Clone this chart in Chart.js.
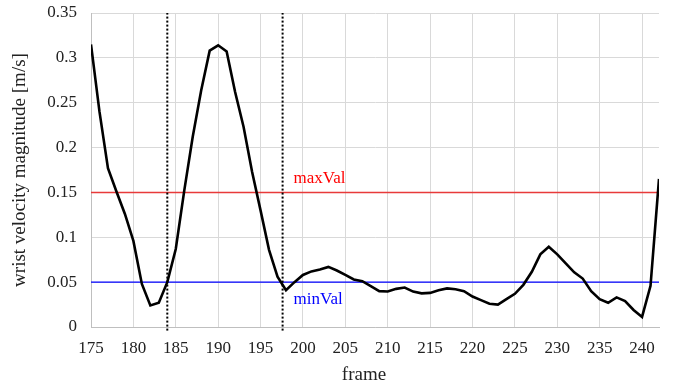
<!DOCTYPE html>
<html>
<head>
<meta charset="utf-8">
<script src="https://cdn.jsdelivr.net/npm/chart.js@4/dist/chart.umd.min.js"></script>
<style>
  html, body { margin: 0; padding: 0; background: #fff; }
  #wrap { width: 675px; height: 385px; }
</style>
</head>
<body>
<div id="wrap"><canvas id="velChart" width="675" height="385"></canvas></div>
<script>
// data
const frames = [175, 176, 177, 178, 179, 180, 181, 182, 183, 184, 185, 186, 187, 188, 189, 190,
  191, 192, 193, 194, 195, 196, 197, 198, 199, 200, 201, 202, 203, 204, 205, 206, 207, 208,
  209, 210, 211, 212, 213, 214, 215, 216, 217, 218, 219, 220, 221, 222, 223, 224, 225, 226,
  227, 228, 229, 230, 231, 232, 233, 234, 235, 236, 237, 238, 239, 240, 241, 242];
const velocity = [0.315, 0.24, 0.177, 0.151, 0.126, 0.096, 0.048, 0.024, 0.027, 0.05, 0.087,
  0.152, 0.212, 0.264, 0.308, 0.314, 0.307, 0.262, 0.223, 0.173, 0.13, 0.086, 0.056, 0.041,
  0.05, 0.058, 0.062, 0.064, 0.067, 0.063, 0.058, 0.053, 0.051, 0.0455, 0.04, 0.0395, 0.0425,
  0.044, 0.0395, 0.0375, 0.038, 0.041, 0.043, 0.042, 0.04, 0.034, 0.03, 0.026, 0.025, 0.031,
  0.037, 0.047, 0.0615, 0.081, 0.0895, 0.081, 0.071, 0.061, 0.054, 0.04, 0.031, 0.027, 0.033,
  0.029, 0.019, 0.0112, 0.046, 0.165];
const maxVal = 0.15;
const minVal = 0.05;
const markers = [184, 197.6];
const xTicks = [175, 180, 185, 190, 195, 200, 205, 210, 215, 220, 225, 230, 235, 240];
const yTicks = [0, 0.05, 0.1, 0.15, 0.2, 0.25, 0.3, 0.35];
const xMin = 175, xMax = 242;
const yMin = 0, yMax = 0.35;

const serif = "'Liberation Serif', 'Times New Roman', serif";

const datasets = [
  {
    label: "velocity",
    data: frames.map((f, i) => ({ x: f, y: velocity[i] })),
    borderColor: "#000",
    borderWidth: 2.6,
    pointRadius: 0,
    tension: 0,
    order: 0
  },
  {
    label: "maxVal",
    data: [{ x: xMin, y: maxVal }, { x: xMax, y: maxVal }],
    borderColor: "#e83a3a",
    borderWidth: 1.5,
    pointRadius: 0,
    order: 2
  },
  {
    label: "minVal",
    data: [{ x: xMin, y: minVal }, { x: xMax, y: minVal }],
    borderColor: "#0000ff",
    borderWidth: 1.3,
    pointRadius: 0,
    order: 2
  }
];

markers.forEach(m => {
  datasets.push({
    label: "marker",
    data: [{ x: m, y: yMin - 0.004 }, { x: m, y: yMax }],
    borderColor: "#000",
    borderWidth: 2,
    borderDash: [2, 2],
    pointRadius: 0,
    clip: { left: 0, top: 0, right: 0, bottom: 5 },
    order: 1
  });
});

// text labels next to the threshold lines + the x axis title
const textLabels = {
  id: "textLabels",
  afterDatasetsDraw(chart) {
    const { ctx, scales } = chart;
    const x = scales.x.getPixelForValue(markers[1]) + 11;
    ctx.save();
    ctx.font = "17px " + serif;
    ctx.textBaseline = "alphabetic";
    ctx.fillStyle = "#ff0000";
    ctx.fillText("maxVal", x, scales.y.getPixelForValue(maxVal) - 9);
    ctx.fillStyle = "#0000ff";
    ctx.fillText("minVal", x, scales.y.getPixelForValue(minVal) + 22);

    ctx.font = "19px " + serif;
    ctx.fillStyle = "#222";
    ctx.textAlign = "center";
    ctx.textBaseline = "middle";
    ctx.fillText("frame", scales.x.getPixelForValue(xMin) + 273, chart.height - 10);
    ctx.restore();
  }
};

new Chart(document.getElementById("velChart"), {
  type: "line",
  data: { datasets },
  options: {
    responsive: false,
    animation: false,
    layout: { padding: { left: 9, right: 16, top: 13, bottom: 0 } },
    plugins: { legend: { display: false }, tooltip: { enabled: false } },
    scales: {
      x: {
        type: "linear",
        min: xMin,
        max: xMax,
        ticks: {
          autoSkip: false,
          color: "#222",
          font: { family: serif, size: 17 },
          padding: 11,
          maxRotation: 0
        },
        afterBuildTicks(axis) {
          axis.ticks = xTicks.map(v => ({ value: v }));
        },
        afterFit(axis) { axis.height = 58; axis.paddingLeft = 0; axis.paddingRight = 0; },
        grid: { color: "#d9d9d9", lineWidth: 1, drawTicks: false },
        border: { color: "#bfbfbf" }
      },
      y: {
        min: yMin,
        max: yMax,
        ticks: {
          autoSkip: false,
          color: "#222",
          font: { family: serif, size: 17 },
          padding: 14,
          callback: v => String(v)
        },
        afterBuildTicks(axis) {
          axis.ticks = yTicks.map(v => ({ value: v }));
        },
        afterFit(axis) { axis.width = 82; axis.paddingTop = 0; axis.paddingBottom = 0; },
        grid: { color: "#d9d9d9", lineWidth: 1, drawTicks: false },
        border: { color: "#bfbfbf" },
        title: {
          display: true,
          text: "wrist velocity magnitude [m/s]",
          color: "#222",
          font: { family: serif, size: 19 },
          padding: { top: 0, bottom: 4 }
        }
      }
    }
  },
  plugins: [textLabels]
});
</script>
</body>
</html>
